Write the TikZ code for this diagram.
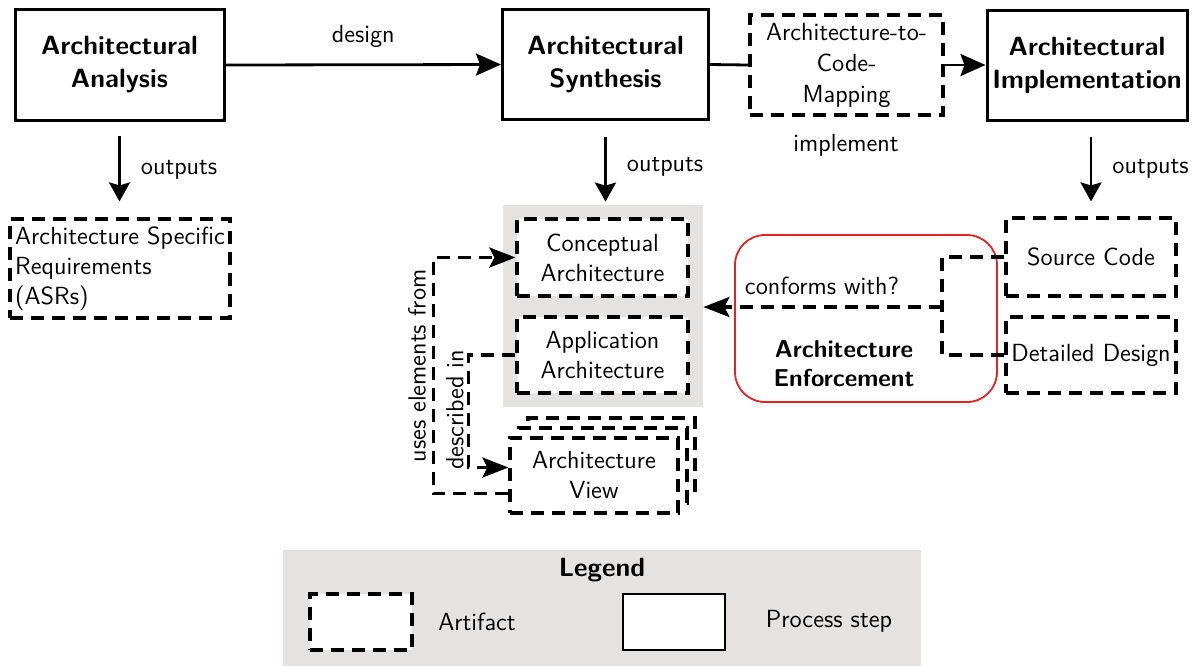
\documentclass[tikz,border=0pt]{standalone}
\usetikzlibrary{arrows.meta}
\definecolor{panelgray}{RGB}{229,227,225}
\definecolor{enfred}{RGB}{225,35,35}
\begin{document}
\begin{tikzpicture}[x=0.5pt,y=-0.5pt,
  every node/.style={font=\sffamily\fontsize{12.4}{15}\selectfont, inner sep=0pt},
  boldtext/.style={font=\sffamily\bfseries\fontsize{13.2}{16.5}\selectfont},
  process/.style={draw, line width=1.5pt, fill=white, align=center, boldtext},
  artifact/.style={draw, line width=1.6pt, dash pattern=on 6.5pt off 4pt,
    fill=white, align=center},
  flow/.style={line width=1.4pt, -{Stealth[length=12.5pt,width=11pt,inset=2pt]}},
  outarrow/.style={line width=1.4pt, -{Stealth[length=9.5pt,width=10.5pt,inset=1.5pt]}},
  dflow/.style={line width=1.6pt, dash pattern=on 6.5pt off 4pt},
  dflowarr/.style={dflow, -{Stealth[length=13pt,width=10pt,inset=2.5pt]}}
]
\useasboundingbox (0,0) rectangle (1194,666);

% process steps along the top
\node[process, minimum width=104.5pt, minimum height=55.5pt] (ana) at (119.5,65) {Architectural\\Analysis};
\node[process, minimum width=103pt, minimum height=55pt] (syn) at (605.5,64.5) {Architectural\\Synthesis};
\node[artifact, minimum width=96.5pt, minimum height=50pt,
  font=\sffamily\fontsize{12.4}{15.5}\selectfont] (map) at (846.5,65) {Architecture-to-\\Code-\\Mapping};
\node[process, minimum width=100pt, minimum height=55pt] (impl) at (1087,65) {Architectural\\Implementation};

% artifacts of the analysis step
\node[artifact, minimum width=110pt, minimum height=49.5pt, align=left] (asr) at (120,268.5)
  {Architecture Specific\\Requirements\\(ASRs)};

% architecture group
\node[fill=panelgray, minimum width=100pt, minimum height=101pt] (grp) at (603,306) {};
\node[artifact, minimum width=85.5pt, minimum height=38.5pt] (con) at (602.5,257.5) {Conceptual\\Architecture};
\node[artifact, minimum width=85.5pt, minimum height=38pt] (app) at (602.5,355) {Application\\Architecture};

% stacked architecture views
\node[artifact, minimum width=83.5pt, minimum height=37.5pt] (view3) at (611.5,455.5) {};
\node[artifact, minimum width=84pt, minimum height=37.5pt] (view2) at (603,465.5) {};
\node[artifact, minimum width=84pt, minimum height=37.5pt] (view) at (594,475.5) {Architecture\\View};

% enforcement
\node[draw=enfred, line width=0.9pt, rounded corners=15pt, fill=white,
  minimum width=131pt, minimum height=83.5pt] (enf) at (866,318.5) {};
\node[font=\sffamily\bfseries\fontsize{12.2}{14.5}\selectfont, align=center] (enflbl) at (844,363.5)
  {Architecture\\Enforcement};

% implementation artifacts
\node[artifact, minimum width=85pt, minimum height=39pt] (src) at (1091,257) {Source Code};
\node[artifact, minimum width=85pt, minimum height=38pt] (dd) at (1091,355) {Detailed Design};

% top flow
\draw[flow] (ana.east) -- node[above=8pt] (dsg) {design} (syn.west);
\draw[line width=1.4pt] (syn.east) -- (map.west);
\draw[flow] (map.east) -- (impl.west);
\node (impl lbl) at (846,145) {implement};

% outputs
\draw[outarrow, shorten <=7pt, shorten >=8pt] (ana.south) -- (ana.south |- asr.north)
  node[midway, right=10pt] (o1) {outputs};
\draw[outarrow, shorten <=8pt, shorten >=1.5pt] (syn.south) -- (syn.south |- grp.north)
  node[midway, right=10pt, yshift=-2pt] (o2) {outputs};
\draw[outarrow, shorten <=7.5pt, shorten >=7.5pt] (src.north |- impl.south) -- (src.north)
  node[midway, right=10pt] (o3) {outputs};

% relations between architecture artifacts
\draw[dflowarr] ([yshift=-9pt]view.west) -- ++(-37.5pt,0) |- (con.west);
\node[rotate=90] (usesl) at (417,366) {uses elements from};
\draw[dflowarr] (app.west) -- ++(-23.5pt,0) |- ([yshift=4pt]view.west);
\node[rotate=90] (descl) at (455,410) {described in};

% conformance check
\coordinate (jn) at (942,307);
\draw[dflow] (src.west) -| (jn);
\draw[dflow] (dd.west) -| (jn);
\draw[dflowarr] (jn) -- (jn -| grp.east);
\node (confl) at (822,286) {conforms with?};

% legend
\node[fill=panelgray, minimum width=319pt, minimum height=58pt] (leg) at (602,608) {};
\node[boldtext] (legt) at (602,570) {Legend};
\node[artifact, minimum width=51pt, minimum height=28pt] (legA) at (361,622) {};
\node (legAt) at (477,622) {Artifact};
\node[draw, line width=1.4pt, fill=white, minimum width=51pt, minimum height=28pt] (legP) at (674,622) {};
\node (legPt) at (829,621) {Process step};
\end{tikzpicture}
\end{document}
